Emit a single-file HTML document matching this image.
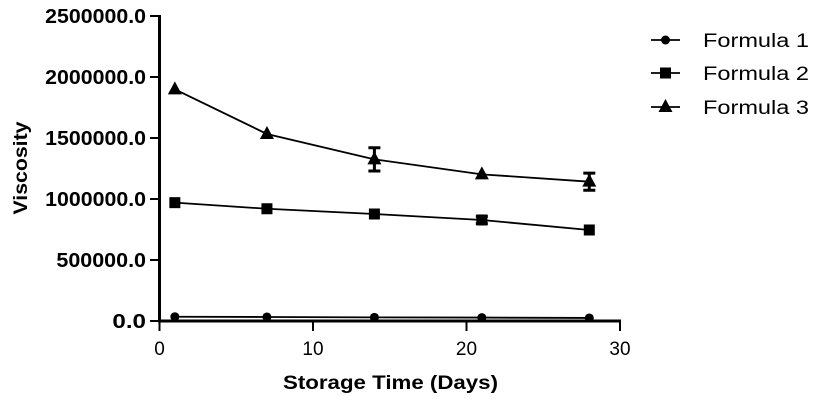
<!DOCTYPE html>
<html><head><meta charset="utf-8"><style>
body{margin:0;background:#fff}
svg{display:block;font-family:"Liberation Sans",sans-serif}
</style></head><body>
<svg id="chart" width="821" height="400"></svg>
<script>
const days=[1,7,14,21,28];
const formula1=[35000,33000,30000,28000,25000];
const formula2=[970000,920000,877000,828000,746000];
const formula2Err=[0,0,0,30000,0];
const formula3=[1899000,1533000,1325000,1202000,1142000];
const formula3Err=[0,0,95000,0,70000];
const yTicks=[0,500000,1000000,1500000,2000000,2500000];
const yTickLabels=["0.0","500000.0","1000000.0","1500000.0","2000000.0","2500000.0"];
const xTicks=[0,10,20,30];
const seriesNames=["Formula 1","Formula 2","Formula 3"];

const NS="http://www.w3.org/2000/svg";
const svg=document.getElementById('chart');
const X=d=>159.5+d*(620-159.5)/30;
const Y=v=>321-v*(305/2500000);
function el(t,a,p){const e=document.createElementNS(NS,t);for(const k in a)e.setAttribute(k,a[k]);(p||svg).appendChild(e);return e;}

let e;
e=el('line',{x1:159.5,y1:15,x2:159.5,y2:322,stroke:'#000','stroke-width':3});


e=el('line',{x1:158,y1:321,x2:621,y2:321,stroke:'#000','stroke-width':3});



yTicks.forEach((v,i)=>{
  const t=el('line',{x1:150,y1:Y(v),x2:159,y2:Y(v),stroke:'#000','stroke-width':2});
  
  
  const l=el('text',{x:146,y:Y(v)+7,'text-anchor':'end','font-size':20,'font-weight':'bold'});
  l.textContent=yTickLabels[i];
  l.setAttribute('textLength',yTickLabels[i].length*11.2);
  l.setAttribute('lengthAdjust','spacingAndGlyphs');
  
  
});
xTicks.forEach(v=>{
  const t=el('line',{x1:X(v),y1:321,x2:X(v),y2:331,stroke:'#000','stroke-width':2});
  
  
  const l=el('text',{x:X(v),y:355,'text-anchor':'middle','font-size':19});
  l.textContent=v;
  
  
});
e=el('text',{x:283,y:389,'font-size':19,'font-weight':'bold',textLength:215,lengthAdjust:'spacingAndGlyphs'});
e.textContent='Storage Time (Days)';


e=el('text',{x:0,y:0,'text-anchor':'middle','font-size':19,'font-weight':'bold',textLength:93,lengthAdjust:'spacingAndGlyphs',transform:'translate(27,168) rotate(-90)'});
e.textContent='Viscosity';



function marker(shape,x,y,g){
  let m;
  if(shape==='circle') m=el('circle',{cx:x,cy:y,r:4.5,fill:'#000'},g);
  else if(shape==='square') m=el('rect',{x:x-5.5,y:y-5.5,width:11,height:11,fill:'#000'},g);
  else m=el('polygon',{points:`${x},${y-8} ${x-7},${y+5} ${x+7},${y+5}`,fill:'#000'},g);
  return m;
}
const series=[[formula1,null,'circle'],[formula2,formula2Err,'square'],[formula3,formula3Err,'triangle']];
series.forEach((s,si)=>{
  const g=el('g',{});
  
  
  const pts=days.map((d,i)=>X(d)+','+Y(s[0][i])).join(' ');
  const pl=el('polyline',{points:pts,fill:'none',stroke:'#000','stroke-width':1.8},g);
  
  
  days.forEach((d,i)=>{
    const x=X(d),y=Y(s[0][i]);
    if(s[1]&&s[1][i]>0){
      const y1=Y(s[0][i]+s[1][i]),y2=Y(s[0][i]-s[1][i]);
      const eb=el('path',{d:`M${x},${y1}V${y2}M${x-6},${y1}H${x+6}M${x-6},${y2}H${x+6}`,stroke:'#000','stroke-width':3,fill:'none'},g);
      
      
    }
    const m=marker(s[2],x,y,g);
    
    
  });
});
const legendY=[40,73,107];
seriesNames.forEach((n,i)=>{
  const g=el('g',{});
  
  
  el('line',{x1:651,y1:legendY[i],x2:680,y2:legendY[i],stroke:'#000','stroke-width':1.8},g);
  marker(series[i][2],665.5,legendY[i],g);
  const t=el('text',{x:703,y:legendY[i]+7,'font-size':19,textLength:106,lengthAdjust:'spacingAndGlyphs'},g);
  t.textContent=n;
});
</script>
</body></html>
